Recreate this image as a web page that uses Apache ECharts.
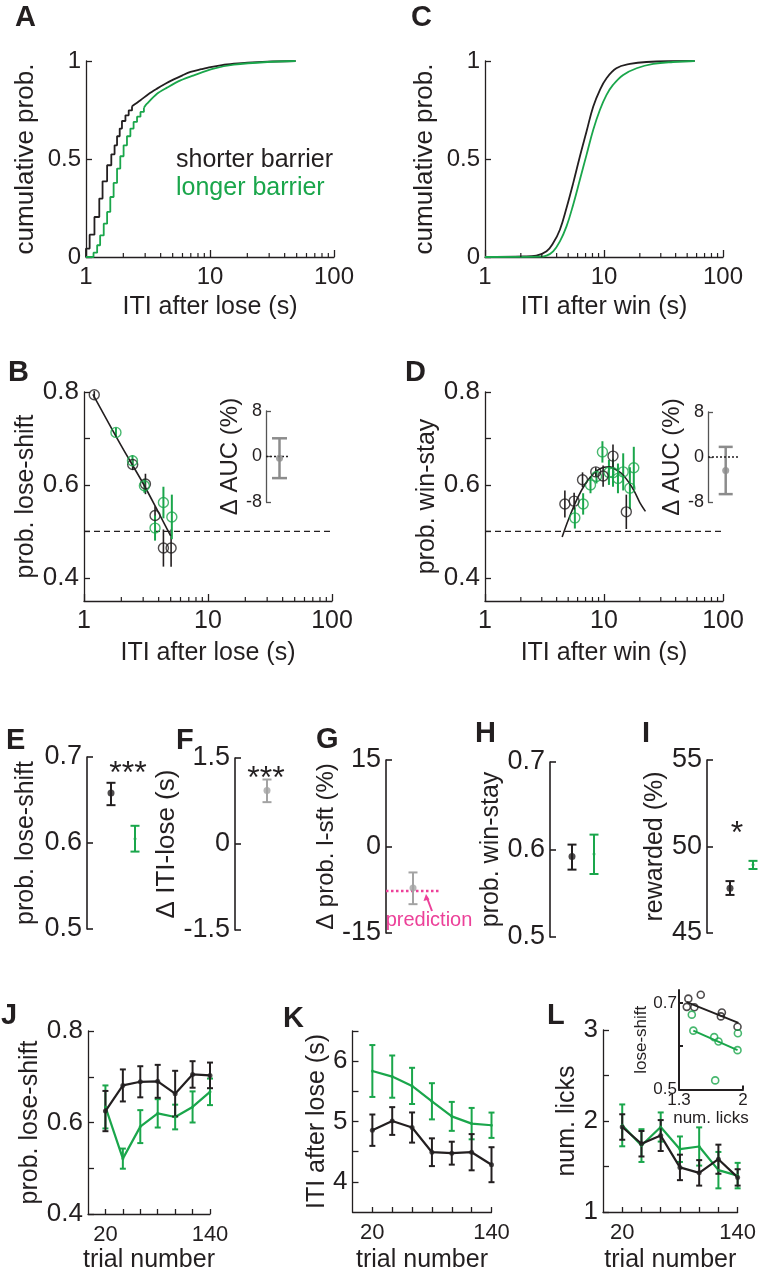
<!DOCTYPE html>
<html><head><meta charset="utf-8">
<script src="https://cdn.jsdelivr.net/npm/echarts@6/dist/echarts.min.js"></script>
<style>html,body{margin:0;padding:0;background:#fff}#c{width:759px;height:1275px}</style>
</head><body><div id="c"></div><script>
// ---------------- DATA ----------------
// Panel A: cumulative probability of ITI after lose (s)
const aShortStepX = [1, 1, 1.07, 1.17, 1.28, 1.36, 1.48, 1.60, 1.70, 1.78, 1.87, 1.95, 2.08, 2.21, 2.35];
const aShortStepY = [0, 0.043, 0.114, 0.204, 0.298, 0.386, 0.468, 0.524, 0.570, 0.616, 0.655, 0.694, 0.723, 0.748, 0.769];
const aShortTailX = [2.35, 2.75, 3.2, 3.74, 4.4, 5.1, 6.0, 6.96, 8.5, 10.1, 12.5, 15.6, 20, 29, 49];
const aShortTailY = [0.769, 0.80, 0.832, 0.859, 0.885, 0.906, 0.927, 0.944, 0.958, 0.969, 0.979, 0.986, 0.992, 0.997, 1.0];
const aLongStepX = [1, 1.15, 1.23, 1.30, 1.39, 1.48, 1.57, 1.67, 1.78, 1.89, 2.01, 2.14, 2.28, 2.42, 2.58, 2.75, 2.93];
const aLongStepY = [0, 0.022, 0.06, 0.11, 0.17, 0.23, 0.306, 0.378, 0.451, 0.514, 0.570, 0.616, 0.655, 0.689, 0.716, 0.740, 0.762];
const aLongTailX = [2.93, 3.1, 3.74, 4.5, 5.78, 7.4, 10.7, 15.6, 29, 49];
const aLongTailY = [0.762, 0.782, 0.833, 0.864, 0.901, 0.927, 0.961, 0.981, 0.995, 1.0];
// Panel C: cumulative probability of ITI after win (s)
const cShortX = [1, 2.1, 2.7, 3.29, 3.74, 4.26, 4.84, 5.51, 6.27, 7.13, 8.11, 9.23, 10.5, 12.7, 16.5, 22.7, 57.8];
const cShortY = [0, 0.003, 0.007, 0.029, 0.071, 0.139, 0.25, 0.377, 0.513, 0.64, 0.767, 0.852, 0.912, 0.963, 0.985, 0.995, 1.0];
const cLongX = [1, 2.9, 3.29, 3.74, 4.26, 4.84, 5.51, 6.27, 7.13, 8.11, 9.23, 10.5, 11.9, 14.5, 18.8, 25.9, 38, 57.8];
const cLongY = [0, 0.002, 0.007, 0.029, 0.08, 0.156, 0.267, 0.394, 0.521, 0.648, 0.75, 0.827, 0.878, 0.929, 0.963, 0.985, 0.995, 1.0];
// Panel B: prob. lose-shift vs ITI after lose
const bShortX = [1.21, 2.47, 3.13, 3.74, 4.37, 5.04];
const bShortY = [0.794, 0.644, 0.602, 0.534, 0.464, 0.464];
const bShortErr = [0.008, 0.012, 0.022, 0.02, 0.04, 0.04];
const bLongX = [1.81, 2.46, 3.07, 3.74, 4.37, 5.11];
const bLongY = [0.713, 0.652, 0.598, 0.507, 0.562, 0.531];
const bLongErr = [0.01, 0.012, 0.015, 0.027, 0.034, 0.048];
const bFitX = [1.18, 2, 3, 4, 5];
const bFitY = [0.795, 0.684, 0.603, 0.54, 0.49];
const bAuc = [-0.3];      // Δ AUC (%) mean
const bAucLo = [-3.8];
const bAucHi = [3.2];
// Panel D: prob. win-stay vs ITI after win
const dShortX = [4.69, 5.61, 6.6, 8.53, 9.83, 11.9, 15.4];
const dShortY = [0.559, 0.565, 0.611, 0.628, 0.619, 0.662, 0.542];
const dShortErr = [0.029, 0.018, 0.016, 0.01, 0.023, 0.025, 0.037];
const dLongX = [5.69, 6.68, 7.7, 8.65, 9.7, 11.0, 11.9, 13.1, 14.5, 16.5, 17.8];
const dLongY = [0.529, 0.559, 0.600, 0.618, 0.671, 0.627, 0.626, 0.614, 0.628, 0.593, 0.637];
const dLongErr = [0.023, 0.023, 0.018, 0.015, 0.023, 0.027, 0.03, 0.032, 0.04, 0.045, 0.045];
const dFitX = [4.45, 5, 6, 7, 8, 9, 10, 11, 12, 14, 16, 18, 20, 22.3];
const dFitY = [0.488, 0.524, 0.572, 0.603, 0.622, 0.633, 0.638, 0.639, 0.636, 0.625, 0.607, 0.586, 0.562, 0.543];
const dAuc = [-2.4];
const dAucLo = [-6.6];
const dAucHi = [1.8];
const chanceLevel = 0.5;
// Panels E-I (shorter, longer)
const eMean = [0.658, 0.605], eLo = [0.644, 0.590], eHi = [0.670, 0.620];
const fMean = [0.934], fLo = [0.73], fHi = [1.125];
const gMean = [-7.2], gLo = [-10.0], gHi = [-4.5];
const gPrediction = -7.7;
const hMean = [0.592, 0.595], hLo = [0.577, 0.572], hHi = [0.6056, 0.617];
const iMean = [47.58, 48.94], iLo = [47.2, 48.7], iHi = [48.0, 49.17];
// Panels J-L
const trials = [20, 40, 60, 80, 100, 120, 140];
const jShort = [0.625, 0.681, 0.689, 0.690, 0.663, 0.705, 0.703];
const jShortErr = [0.044, 0.035, 0.034, 0.036, 0.05, 0.029, 0.028];
const jLong = [0.634, 0.521, 0.591, 0.620, 0.612, 0.634, 0.667];
const jLongErr = [0.047, 0.022, 0.036, 0.031, 0.027, 0.034, 0.029];
const kShort = [4.856, 5.008, 4.9, 4.491, 4.475, 4.491, 4.284];
const kShortErr = [0.26, 0.23, 0.25, 0.23, 0.19, 0.3, 0.29];
const kLong = [5.837, 5.744, 5.59, 5.335, 5.085, 4.965, 4.938];
const kLongErr = [0.43, 0.35, 0.3, 0.3, 0.24, 0.26, 0.21];
const lShort = [1.934, 1.75, 1.84, 1.49, 1.43, 1.58, 1.38];
const lShortErr = [0.14, 0.14, 0.17, 0.14, 0.14, 0.16, 0.09];
const lLong = [1.952, 1.73, 1.934, 1.69, 1.72, 1.46, 1.40];
const lLongErr = [0.23, 0.18, 0.16, 0.14, 0.21, 0.2, 0.14];
// L inset: lose-shift vs num. licks
const insShortX = [1.385, 1.402, 1.468, 1.538, 1.758, 1.769, 1.94];
const insShortY = [0.691, 0.71, 0.690, 0.719, 0.669, 0.678, 0.645];
const insShortFitX = [1.385, 1.95], insShortFitY = [0.702, 0.654];
const insLongX = [1.44, 1.457, 1.685, 1.696, 1.732, 1.94, 1.944];
const insLongY = [0.673, 0.636, 0.621, 0.521, 0.611, 0.591, 0.630];
const insLongFitX = [1.457, 1.94], insLongFitY = [0.636, 0.591];
// tick values
const logMinorTicks = [2, 3, 4, 5, 6, 7, 8, 9, 20, 30, 40, 50, 60, 70, 80, 90];

// ---------------- STYLE ----------------
const FONT = '"Liberation Sans", Arial, Helvetica, sans-serif';
const BLACK = '#231f20', GREEN = '#1aa64b', GRAY = '#8c8c8c', LGRAY = '#a3a3a3', DGRAY = '#555555', PINK = '#ec4199';
const SHORT = 'shorter barrier', LONG = 'longer barrier';

const grids = [], xAxes = [], yAxes = [], series = [];
function panel(rect, xa, ya) {
  const gi = grids.length;
  grids.push(rect);
  xa.gridIndex = gi; ya.gridIndex = gi;
  xAxes.push(xa); yAxes.push(ya);
  return gi;
}
const zip = (xs, ys) => xs.map((x, i) => [x, ys[i]]);
function ls(c, w) { return { color: c || BLACK, width: w || 1.3 }; }
function logX(name, gap, fs) {
  return { type: 'log', logBase: 10, min: 1, max: 100,
    axisLine: { show: true, onZero: false, lineStyle: ls() },
    axisTick: { show: true, inside: true, length: 7, lineStyle: ls() },
    axisLabel: { fontSize: fs, color: BLACK, fontFamily: FONT, margin: 8 },
    splitLine: { show: false },
    name: name, nameLocation: 'middle', nameGap: gap,
    nameTextStyle: { fontSize: 25, color: BLACK, fontFamily: FONT } };
}
function valAxis(o) {
  const c = o.color || BLACK;
  const a = { type: 'value', min: o.min, max: o.max, show: o.show !== false,
    axisLine: { show: true, onZero: false, lineStyle: ls(c, o.lw || 1.3) },
    axisTick: { show: true, inside: true, length: o.tickLen || 6, lineStyle: ls(c, o.lw || 1.3), customValues: o.ticks },
    axisLabel: { show: true, fontSize: o.fs || 25, color: BLACK, fontFamily: FONT, margin: o.margin || 5,
      customValues: o.labels, formatter: o.fmt || (v => String(v)) },
    splitLine: { show: false } };
  if (o.name) {
    a.name = o.name; a.nameLocation = 'middle'; a.nameGap = o.gap;
    a.nameTextStyle = { fontSize: o.nfs || 25, color: BLACK, fontFamily: FONT };
    if (o.rotate) a.nameRotate = 90;
  }
  return a;
}
function hiddenX(min, max) { return { type: 'value', min: min, max: max, show: false, splitLine: { show: false } }; }

function lineSer(ai, name, data, color, width, extra) {
  return Object.assign({ type: 'line', name: name, xAxisIndex: ai, yAxisIndex: ai, data: data,
    showSymbol: false, symbol: 'none', lineStyle: { color: color, width: width }, itemStyle: { color: color },
    silent: true, animation: false, z: 3 }, extra || {});
}
function errSer(ai, name, xs, lo, hi, color, cap, lw, z) {
  return { type: 'custom', name: name, xAxisIndex: ai, yAxisIndex: ai, silent: true, animation: false, z: z || 2,
    data: xs.map((x, i) => [x, lo[i], hi[i]]), encode: { x: 0, y: [1, 2] },
    renderItem: (p, api) => {
      const x = api.value(0);
      const a = api.coord([x, api.value(1)]), b = api.coord([x, api.value(2)]);
      const st = { stroke: color, lineWidth: lw };
      const ch = [{ type: 'line', shape: { x1: a[0], y1: a[1], x2: b[0], y2: b[1] }, style: st }];
      if (cap) {
        ch.push({ type: 'line', shape: { x1: a[0] - cap / 2, y1: a[1], x2: a[0] + cap / 2, y2: a[1] }, style: st });
        ch.push({ type: 'line', shape: { x1: b[0] - cap / 2, y1: b[1], x2: b[0] + cap / 2, y2: b[1] }, style: st });
      }
      return { type: 'group', children: ch };
    } };
}
function symErr(xs, ys, es) { return [ys.map((y, i) => y - es[i]), ys.map((y, i) => y + es[i])]; }
function scatterSer(ai, name, data, color, size, hollow, bw, z) {
  return { type: 'scatter', name: name, xAxisIndex: ai, yAxisIndex: ai, data: data, symbol: 'circle', symbolSize: size,
    itemStyle: hollow ? { color: 'rgba(0,0,0,0)', borderColor: color, borderWidth: bw || 1.4 } : { color: color },
    silent: true, animation: false, z: z || 4 };
}
function minorTicks(ai, yMin) {
  return { type: 'custom', xAxisIndex: ai, yAxisIndex: ai, silent: true, animation: false, z: 5,
    data: logMinorTicks.map(v => [v, yMin]),
    renderItem: (p, api) => {
      const c = api.coord([api.value(0), api.value(1)]);
      return { type: 'line', shape: { x1: c[0], y1: c[1], x2: c[0], y2: c[1] - 4 }, style: { stroke: BLACK, lineWidth: 1.2 } };
    } };
}

// ---------------- PANELS ----------------
// A
const gA = panel({ left: 86, top: 61, width: 248, height: 196 }, logX('ITI after lose (s)', 38, 24),
  valAxis({ min: 0, max: 1, ticks: [0, 0.5, 1], labels: [0, 0.5, 1], fs: 24, name: 'cumulative prob.', gap: 47, rotate: true, nfs: 26 }));
series.push(lineSer(gA, SHORT, zip(aShortStepX, aShortStepY), BLACK, 1.8, { step: 'end' }));
series.push(lineSer(gA, SHORT, zip(aShortTailX, aShortTailY), BLACK, 1.8, { smooth: 0.3 }));
series.push(lineSer(gA, LONG, zip(aLongStepX, aLongStepY), GREEN, 1.8, { step: 'end' }));
series.push(lineSer(gA, LONG, zip(aLongTailX, aLongTailY), GREEN, 1.8, { smooth: 0.3 }));
series.push(minorTicks(gA, 0));
// C
const gC = panel({ left: 485, top: 61, width: 238, height: 196 }, logX('ITI after win (s)', 38, 24),
  valAxis({ min: 0, max: 1, ticks: [0, 0.5, 1], labels: [0, 0.5, 1], fs: 24, name: 'cumulative prob.', gap: 47, rotate: true, nfs: 26 }));
series.push(lineSer(gC, SHORT, zip(cShortX, cShortY), BLACK, 1.8, { smooth: 0.4 }));
series.push(lineSer(gC, LONG, zip(cLongX, cLongY), GREEN, 1.8, { smooth: 0.4 }));
series.push(minorTicks(gC, 0));
// B
const fmt1 = v => v.toFixed(1);
const gB = panel({ left: 84, top: 392, width: 248, height: 209 }, logX('ITI after lose (s)', 40, 25),
  valAxis({ min: 0.35, max: 0.8, ticks: [0.4, 0.5, 0.6, 0.7, 0.8], labels: [0.4, 0.6, 0.8], fmt: fmt1, fs: 26, name: 'prob. lose-shift', gap: 45, rotate: true }));
series.push(lineSer(gB, '', [[1, chanceLevel], [100, chanceLevel]], BLACK, 1.3, { lineStyle: { color: BLACK, width: 1.3, type: [6, 4] }, z: 1 }));
series.push(lineSer(gB, SHORT, zip(bFitX, bFitY), BLACK, 1.6, { smooth: 0.3 }));
let e = symErr(bShortX, bShortY, bShortErr);
series.push(errSer(gB, SHORT, bShortX, e[0], e[1], BLACK, 0, 1.6));
e = symErr(bLongX, bLongY, bLongErr);
series.push(errSer(gB, LONG, bLongX, e[0], e[1], GREEN, 0, 2));
series.push(scatterSer(gB, SHORT, zip(bShortX, bShortY), BLACK, 10, true, 1.4));
series.push(scatterSer(gB, LONG, zip(bLongX, bLongY), GREEN, 10, true, 1.4));
series.push(minorTicks(gB, 0.35));
// B inset
const gBi = panel({ left: 266, top: 411, width: 30, height: 91 }, hiddenX(0, 2),
  valAxis({ min: -8, max: 8, ticks: [-8, 0, 8], labels: [-8, 0, 8], fs: 18, color: DGRAY, tickLen: 5, margin: 4, name: 'Δ AUC (%)', gap: 20, rotate: true, nfs: 24 }));
series.push(lineSer(gBi, '', [[0, 0], [1.6, 0]], BLACK, 1.5, { lineStyle: { color: BLACK, width: 1.5, type: [2, 2] } }));
series.push(errSer(gBi, '', [0.9], bAucLo, bAucHi, GRAY, 15, 2.5));
series.push(scatterSer(gBi, '', zip([0.9], bAuc), GRAY, 7, false));
// D
const gD = panel({ left: 485, top: 392, width: 238, height: 209 }, logX('ITI after win (s)', 40, 25),
  valAxis({ min: 0.35, max: 0.8, ticks: [0.4, 0.5, 0.6, 0.7, 0.8], labels: [0.4, 0.6, 0.8], fmt: fmt1, fs: 26, name: 'prob. win-stay', gap: 45, rotate: true }));
series.push(lineSer(gD, '', [[1, chanceLevel], [100, chanceLevel]], BLACK, 1.3, { lineStyle: { color: BLACK, width: 1.3, type: [6, 4] }, z: 1 }));
series.push(lineSer(gD, SHORT, zip(dFitX, dFitY), BLACK, 1.6, { smooth: 0.3 }));
e = symErr(dLongX, dLongY, dLongErr);
series.push(errSer(gD, LONG, dLongX, e[0], e[1], GREEN, 0, 2));
e = symErr(dShortX, dShortY, dShortErr);
series.push(errSer(gD, SHORT, dShortX, e[0], e[1], BLACK, 0, 1.6));
series.push(scatterSer(gD, LONG, zip(dLongX, dLongY), GREEN, 10, true, 1.4));
series.push(scatterSer(gD, SHORT, zip(dShortX, dShortY), BLACK, 10, true, 1.4));
series.push(minorTicks(gD, 0.35));
// D inset
const gDi = panel({ left: 708, top: 412, width: 40, height: 90 }, hiddenX(0, 2),
  valAxis({ min: -8, max: 8, ticks: [-8, 0, 8], labels: [-8, 0, 8], fs: 18, color: DGRAY, tickLen: 5, margin: 4, name: 'Δ AUC (%)', gap: 13, rotate: true, nfs: 24 }));
series.push(lineSer(gDi, '', [[0, 0], [1.6, 0]], BLACK, 1.5, { lineStyle: { color: BLACK, width: 1.5, type: [2, 2] } }));
series.push(errSer(gDi, '', [0.885], dAucLo, dAucHi, GRAY, 14, 2.5));
series.push(scatterSer(gDi, '', zip([0.885], dAuc), GRAY, 7, false));
// E
const gE = panel({ left: 87, top: 757, width: 72, height: 172 }, hiddenX(0, 3),
  valAxis({ min: 0.5, max: 0.7, ticks: [0.5, 0.6, 0.7], labels: [0.5, 0.6, 0.7], fmt: fmt1, fs: 27, name: 'prob. lose-shift', gap: 48, rotate: true, lw: 1.6 }));
series.push(errSer(gE, SHORT, [1], [eLo[0]], [eHi[0]], BLACK, 9, 2));
series.push(errSer(gE, LONG, [2], [eLo[1]], [eHi[1]], GREEN, 9, 2));
series.push(scatterSer(gE, SHORT, [[1, eMean[0]]], BLACK, 7, false));
series.push(scatterSer(gE, LONG, [[2, eMean[1]]], GREEN, 3, false));
// F
const gF = panel({ left: 235, top: 758, width: 64, height: 172 }, hiddenX(0, 2),
  valAxis({ min: -1.5, max: 1.5, ticks: [-1.5, 0, 1.5], labels: [-1.5, 0, 1.5], fs: 27, name: 'Δ ITI-lose (s)', gap: 28, rotate: true, nfs: 26, lw: 1.6 }));
series.push(errSer(gF, '', [1], fLo, fHi, LGRAY, 9, 2));
series.push(scatterSer(gF, '', zip([1], fMean), LGRAY, 7, false));
// G
const gG = panel({ left: 386, top: 760, width: 54, height: 173 }, hiddenX(0, 2),
  valAxis({ min: -15, max: 15, ticks: [-15, 0, 15], labels: [-15, 0, 15], fs: 27, name: 'Δ prob. l-sft (%)', gap: 35, rotate: true, nfs: 24, lw: 1.6 }));
series.push(lineSer(gG, 'prediction', [[0, gPrediction], [2, gPrediction]], PINK, 2.5, { lineStyle: { color: PINK, width: 2.5, type: [2.5, 2.5] }, z: 1 }));
series.push(errSer(gG, '', [1], gLo, gHi, LGRAY, 9, 2));
series.push(scatterSer(gG, '', zip([1], gMean), LGRAY, 7, false));
// H
const gH = panel({ left: 550, top: 762, width: 66, height: 175 }, hiddenX(0, 3),
  valAxis({ min: 0.5, max: 0.7, ticks: [0.5, 0.6, 0.7], labels: [0.5, 0.6, 0.7], fmt: fmt1, fs: 27, name: 'prob. win-stay', gap: 44, rotate: true, lw: 1.6 }));
series.push(errSer(gH, SHORT, [1], [hLo[0]], [hHi[0]], BLACK, 9, 2));
series.push(errSer(gH, LONG, [2], [hLo[1]], [hHi[1]], GREEN, 9, 2));
series.push(scatterSer(gH, SHORT, [[1, hMean[0]]], BLACK, 7, false));
series.push(scatterSer(gH, LONG, [[2, hMean[1]]], GREEN, 3, false));
// I
const gI = panel({ left: 707, top: 760, width: 50.6, height: 173 }, hiddenX(0, 2.2),
  valAxis({ min: 45, max: 55, ticks: [45, 50, 55], labels: [45, 50, 55], fs: 27, name: 'rewarded (%)', gap: 38, rotate: true, lw: 1.6 }));
series.push(errSer(gI, SHORT, [1], [iLo[0]], [iHi[0]], BLACK, 9, 2));
series.push(errSer(gI, LONG, [2], [iLo[1]], [iHi[1]], GREEN, 9, 2));
series.push(scatterSer(gI, SHORT, [[1, iMean[0]]], BLACK, 7, false));
series.push(scatterSer(gI, LONG, [[2, iMean[1]]], GREEN, 3, false));
// J, K, L
function trialX(name, gap) {
  return valAxis({ min: 0, max: 140, ticks: trials, labels: [20, 140], fs: 22, margin: 10, name: name, gap: gap, tickLen: 5 });
}
const gJ = panel({ left: 88, top: 1031, width: 122, height: 183 }, trialX('trial number', 34),
  valAxis({ min: 0.4, max: 0.8, ticks: [0.4, 0.5, 0.6, 0.7, 0.8], labels: [0.4, 0.6, 0.8], fmt: fmt1, fs: 26, name: 'prob. lose-shift', gap: 44, rotate: true }));
const gK = panel({ left: 352.5, top: 1031, width: 139, height: 181 }, trialX('trial number', 36),
  valAxis({ min: 3.5, max: 6.5, ticks: [4, 4.5, 5, 5.5, 6, 6.5], labels: [4, 5, 6], fs: 26, name: 'ITI after lose (s)', gap: 22, rotate: true }));
const gL = panel({ left: 603, top: 1030, width: 139, height: 182 }, trialX('trial number', 36),
  valAxis({ min: 1, max: 3, ticks: [1, 1.5, 2, 2.5, 3], labels: [1, 2, 3], fs: 26, name: 'num. licks', gap: 21, rotate: true }));
const tri = [[gJ, jShort, jShortErr, jLong, jLongErr], [gK, kShort, kShortErr, kLong, kLongErr], [gL, lShort, lShortErr, lLong, lLongErr]];
tri.forEach(([g, s, se, l, le]) => {
  let ee = symErr(trials, l, le);
  series.push(errSer(g, LONG, trials, ee[0], ee[1], GREEN, 6, 2, 2));
  series.push(lineSer(g, LONG, zip(trials, l), GREEN, 2.2, { z: 2 }));
  ee = symErr(trials, s, se);
  series.push(errSer(g, SHORT, trials, ee[0], ee[1], BLACK, 6, 2, 3));
  series.push(lineSer(g, SHORT, zip(trials, s), BLACK, 2.2, { z: 3 }));
  series.push(scatterSer(g, SHORT, zip(trials, s), BLACK, 5, false, 0, 4));
  series.push(scatterSer(g, LONG, zip(trials, l), GREEN, 3, false, 0, 3));
});
// L inset
const gLi = panel({ left: 679, top: 990, width: 64, height: 99.5 },
  valAxis({ min: 1.3, max: 2, ticks: [1.3, 2], labels: [1.3, 2], fs: 17, margin: 2, name: 'num. licks', gap: 18, nfs: 17, lw: 2, tickLen: 4 }),
  valAxis({ min: 0.5, max: 0.73, ticks: [0.5, 0.6, 0.7], labels: [0.5, 0.7], fmt: fmt1, fs: 17, margin: 2, name: 'lose-shift', gap: 22, rotate: true, nfs: 17, lw: 2, tickLen: 4 }));
series.push(lineSer(gLi, SHORT, zip(insShortFitX, insShortFitY), BLACK, 2));
series.push(lineSer(gLi, LONG, zip(insLongFitX, insLongFitY), GREEN, 2));
series.push(scatterSer(gLi, SHORT, zip(insShortX, insShortY), BLACK, 7, true, 1.6));
series.push(scatterSer(gLi, LONG, zip(insLongX, insLongY), GREEN, 7, true, 1.6));

// ---------------- ANNOTATIONS ----------------
const letters = [['A', 15, 3], ['C', 411, 3], ['B', 8, 358], ['D', 405, 358], ['E', 6, 726], ['F', 176, 726], ['G', 316, 725],
  ['H', 475, 719], ['I', 642, 719], ['J', 1, 1001], ['K', 283, 1004], ['L', 547, 1001]];
const graphics = letters.map(([t, x, y]) => ({ type: 'text', left: x, top: y, silent: true,
  style: { text: t, fontSize: 29, fontWeight: 'bold', fontFamily: FONT, fill: BLACK } }));
const stars = [['***', 128, 774], ['***', 266, 779], ['*', 737, 834]];
stars.forEach(([t, x, y]) => graphics.push({ type: 'text', x: x, y: y, silent: true,
  style: { text: t, fontSize: 32, fontFamily: FONT, fill: BLACK, align: 'center', verticalAlign: 'middle' } }));
graphics.push({ type: 'text', x: 429, y: 920, silent: true,
  style: { text: 'prediction', fontSize: 20, fontFamily: FONT, fill: PINK, align: 'center', verticalAlign: 'middle' } });
graphics.push({ type: 'line', silent: true, shape: { x1: 432, y1: 911, x2: 427.5, y2: 899 }, style: { stroke: PINK, lineWidth: 2 } });
graphics.push({ type: 'polygon', silent: true, shape: { points: [[426, 894], [423.5, 901], [429.5, 899.5]] }, style: { fill: PINK } });

const chart = echarts.init(document.getElementById('c'), null, { renderer: 'canvas' });
chart.setOption({
  backgroundColor: '#ffffff',
  animation: false,
  textStyle: { fontFamily: FONT },
  legend: { show: true, left: 166, top: 143, orient: 'vertical', selectedMode: false, itemGap: 3, itemWidth: 0, itemHeight: 0,
    data: [{ name: SHORT, icon: 'none', textStyle: { color: BLACK } }, { name: LONG, icon: 'none', textStyle: { color: GREEN } }],
    textStyle: { fontSize: 25, fontFamily: FONT } },
  grid: grids, xAxis: xAxes, yAxis: yAxes, series: series, graphic: graphics
});
</script></body></html>
